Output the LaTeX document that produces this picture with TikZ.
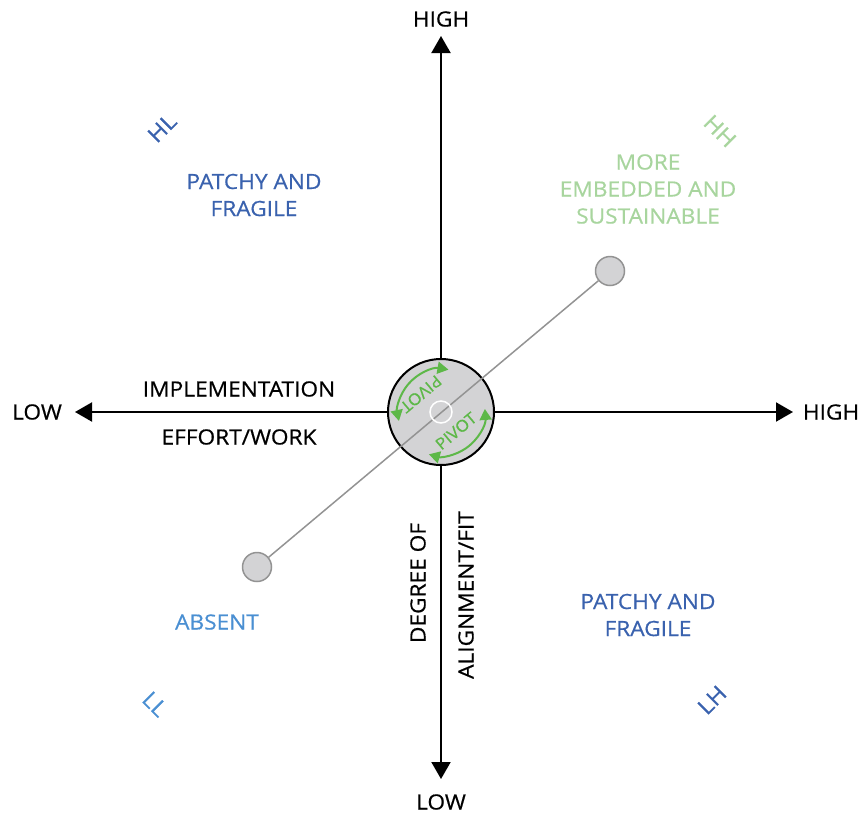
\documentclass[tikz,border=0pt]{standalone}
\usepackage{fontspec}
\setmainfont{Open Sans}[FakeStretch=1.08, FakeBold=0.6]
\usetikzlibrary{arrows.meta}
\definecolor{dkblue}{HTML}{3A62AE}
\definecolor{ltblue}{HTML}{4A8FD2}
\definecolor{ltgreen}{HTML}{A8D59E}
\definecolor{pivgreen}{HTML}{5DB848}
\definecolor{discgray}{HTML}{D3D3D5}
\definecolor{linegray}{HTML}{939393}
\tikzset{
  axis/.style={line width=2pt, -{Triangle[length=17pt,width=19pt]}},
  lbl/.style={font=\fontsize{21}{27}\selectfont, inner sep=0pt, align=center},
  corner/.style={font=\fontsize{22}{24}\selectfont, inner sep=0pt},
  hubdisc/.style={circle, draw=black, line width=2pt, fill=discgray, minimum size=106pt, inner sep=0pt},
  hubring/.style={circle, draw=white, line width=1.5pt, minimum size=22pt, inner sep=0pt},
  endpt/.style={circle, draw=linegray, line width=1.5pt, fill=discgray, minimum size=29pt, inner sep=0pt},
  pivarrow/.style={pivgreen, line width=2pt, {Triangle[length=11pt,width=12pt]}-{Triangle[length=11pt,width=12pt]}},
  pivtext/.style={pivgreen, font=\fontsize{16}{18}\selectfont, inner sep=0pt}
}
\begin{document}
\begin{tikzpicture}[x=1pt,y=-1pt]
\useasboundingbox (0,0) rectangle (861,814);
\coordinate (top) at (441,36);
\coordinate (bot) at (441,779);
\coordinate (lft) at (75,412);
\coordinate (rgt) at (793,412);
\node[hubdisc] (hub) at (441,412) {};
\draw[axis] (hub.north) -- (top);
\draw[axis] (hub.south) -- (bot);
\draw[axis] (hub.west) -- (lft);
\draw[axis] (hub.east) -- (rgt);
\node[endpt] (lo) at (257,567) {};
\node[endpt] (hi) at (610,271) {};
\draw[linegray, line width=1.5pt] (lo) -- (hi);
\node[hubring] (ring) at (hub.center) {};
\draw[pivarrow] ([shift={(-80:43)}]hub.center) arc[start angle=-80, end angle=-192, radius=43];
\draw[pivarrow] ([shift={(-4:44)}]hub.center) arc[start angle=-4, end angle=106, radius=44];
\node[pivtext, rotate=220] (piv1) at (421,394) {PIVOT};
\node[pivtext, rotate=40] (piv2) at (456,431) {PIVOT};
\node[lbl] (thigh) at (441,19) {HIGH};
\node[lbl] (blow) at (441,802) {LOW};
\node[lbl] (llow) at (37,412) {LOW};
\node[lbl] (rhigh) at (831,412) {HIGH};
\node[lbl] (impl) at (239,389) {IMPLEMENTATION};
\node[lbl] (eff) at (239,437) {EFFORT/WORK};
\node[lbl, rotate=90] (deg) at (418,583) {DEGREE OF};
\node[lbl, rotate=90] (align) at (466,595) {ALIGNMENT/FIT};
\node[corner, dkblue, rotate=45] (hl) at (162,128) {HL};
\node[lbl, dkblue] (pf1) at (254,195) {PATCHY AND\\FRAGILE};
\node[corner, ltgreen, rotate=-45] (hh) at (720,131) {HH};
\node[lbl, ltgreen] (mes) at (648,189) {MORE\\EMBEDDED AND\\SUSTAINABLE};
\node[lbl, ltblue] (abs) at (217,622) {ABSENT};
\node[corner, ltblue, rotate=-45] (ll) at (155,704) {LL};
\node[lbl, dkblue] (pf2) at (648,615) {PATCHY AND\\FRAGILE};
\node[corner, dkblue, rotate=45] (lh) at (712,700) {LH};
\end{tikzpicture}
\end{document}
